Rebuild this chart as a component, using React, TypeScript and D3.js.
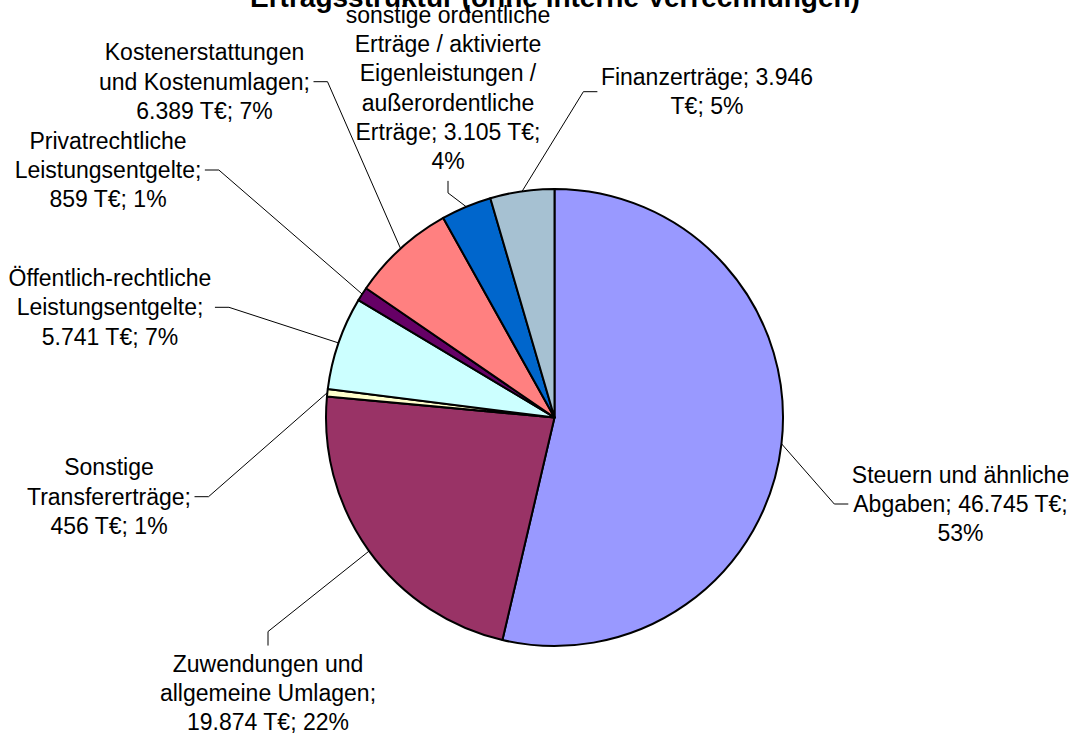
import React, { useEffect, useRef } from 'react';
import * as d3 from 'd3';

// Chart data
const title = 'Ertragsstruktur (ohne interne Verrechnungen)';
const categories = [
  'Steuern und ähnliche Abgaben',
  'Zuwendungen und allgemeine Umlagen',
  'Sonstige Transfererträge',
  'Öffentlich-rechtliche Leistungsentgelte',
  'Privatrechtliche Leistungsentgelte',
  'Kostenerstattungen und Kostenumlagen',
  'sonstige ordentliche Erträge / aktivierte Eigenleistungen / außerordentliche Erträge',
  'Finanzerträge',
];
const values = [46745, 19874, 456, 5741, 859, 6389, 3105, 3946];
const percents = [53, 22, 1, 7, 1, 7, 4, 5];
const colors = ['#9999FF', '#993366', '#FFFFCC', '#CCFFFF', '#660066', '#FF8080', '#0066CC', '#A6C1D2'];

// Label placement (block centre, side the leader line attaches to, wrap width)
const labelLayout = [
  { cx: 960.5, cy: 504, side: 'left', wrap: 232 },
  { cx: 268, cy: 693, side: 'top', wrap: 225 },
  { cx: 109, cy: 496.7, side: 'right', wrap: 172 },
  { cx: 110, cy: 307.3, side: 'right', wrap: 210 },
  { cx: 108, cy: 170, side: 'right', wrap: 195 },
  { cx: 204.5, cy: 81.7, side: 'right', wrap: 230 },
  { cx: 448, cy: 88, side: 'bottom', wrap: 210 },
  { cx: 707, cy: 91.7, side: 'left', wrap: 222 },
];

const WIDTH = 1076;
const HEIGHT = 736;
const FONT = '"Liberation Sans", Arial, sans-serif';
const FONT_SIZE = 23;
const LINE_H = 29.3;

const de = d3.formatLocale({ decimal: ',', thousands: '.', grouping: [3], currency: ['', ' €'] });
const fmt = de.format(',');

const PieChart = () => {
  const ref = useRef<SVGSVGElement | null>(null);

  useEffect(() => {
    const svg = d3.select(ref.current);
    svg.selectAll('*').remove();

    const cx = 554.5;
    const cy = 417.5;
    const radius = 228.5;

    const pie = d3.pie<number>().sort(null).value((d) => d);
    const arcs = pie(values);
    const arcGen = d3.arc<d3.PieArcDatum<number>>().innerRadius(0).outerRadius(radius);

    const g = svg.append('g').attr('transform', `translate(${cx},${cy})`);
    g.selectAll('path')
      .data(arcs)
      .enter()
      .append('path')
      .attr('d', arcGen)
      .attr('fill', (_, i) => colors[i])
      .attr('stroke', '#000')
      .attr('stroke-width', 2)
      .attr('stroke-linejoin', 'round');

    // text measuring helper for wrapping
    const probe = svg
      .append('text')
      .attr('font-family', FONT)
      .attr('font-size', FONT_SIZE)
      .attr('visibility', 'hidden');
    const textWidth = (s: string) => {
      probe.text(s);
      return (probe.node() as SVGTextElement).getComputedTextLength();
    };
    const wrap = (s: string, max: number) => {
      const words = s.split(' ');
      const lines: string[] = [];
      let cur = '';
      words.forEach((w) => {
        const t = cur ? cur + ' ' + w : w;
        if (cur && textWidth(t) > max) {
          lines.push(cur);
          cur = w;
        } else {
          cur = t;
        }
      });
      if (cur) lines.push(cur);
      return lines;
    };

    const leaders = svg.append('g');
    const labels = svg.append('g');

    arcs.forEach((a, i) => {
      const lay = labelLayout[i];
      const text = `${categories[i]}; ${fmt(values[i])} T€; ${percents[i]}%`;
      const lines = wrap(text, lay.wrap);
      const n = lines.length;
      const maxW = d3.max(lines, (l) => textWidth(l)) || 0;

      const t = labels
        .append('text')
        .attr('font-family', FONT)
        .attr('font-size', FONT_SIZE)
        .attr('fill', '#000')
        .attr('text-anchor', 'middle');
      lines.forEach((l, k) => {
        t.append('tspan')
          .attr('x', lay.cx)
          .attr('y', lay.cy - ((n - 1) / 2) * LINE_H + k * LINE_H + 8)
          .text(l);
      });

      // leader line: slice edge -> elbow -> label
      const mid = (a.startAngle + a.endAngle) / 2;
      const start: [number, number] = [cx + radius * Math.sin(mid), cy - radius * Math.cos(mid)];
      let end: [number, number];
      let elbow: [number, number];
      if (lay.side === 'left') {
        end = [lay.cx - maxW / 2 - 3.5, lay.cy];
        elbow = [end[0] - 14, lay.cy];
      } else if (lay.side === 'right') {
        end = [lay.cx + maxW / 2 + 3.5, lay.cy];
        elbow = [end[0] + 14, lay.cy];
      } else if (lay.side === 'top') {
        end = [lay.cx, lay.cy - (n / 2) * LINE_H - 3.5];
        elbow = [lay.cx, end[1] - 14];
      } else {
        end = [lay.cx, lay.cy + (n / 2) * LINE_H + 5];
        elbow = [lay.cx, end[1] + 12];
      }
      leaders
        .append('path')
        .attr('d', d3.line()([start, elbow, end]))
        .attr('fill', 'none')
        .attr('stroke', '#000')
        .attr('stroke-width', 1);
    });

    probe.remove();

    svg
      .append('text')
      .attr('x', 555)
      .attr('y', 7)
      .attr('text-anchor', 'middle')
      .attr('font-family', FONT)
      .attr('font-size', 28)
      .attr('font-weight', 'bold')
      .attr('fill', '#000')
      .text(title);
  }, []);

  return (
    <svg
      ref={ref}
      width={WIDTH}
      height={HEIGHT}
      style={{ position: 'absolute', left: 0, top: 0, background: '#fff' }}
    />
  );
};

export default function App() {
  return <PieChart />;
}
